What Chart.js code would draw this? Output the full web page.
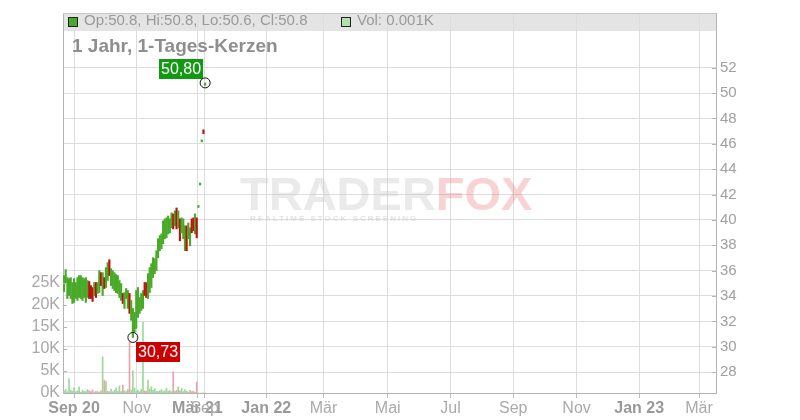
<!DOCTYPE html>
<html>
<head>
<meta charset="utf-8">
<script src="https://cdn.jsdelivr.net/npm/chart.js@4.4.1/dist/chart.umd.min.js"></script>
<style>
  html, body { margin: 0; padding: 0; background: #fff; }
  #wrap { width: 800px; height: 420px; }
</style>
</head>
<body>
<div id="wrap"><canvas id="chart" width="800" height="420"></canvas></div>
<script>
// daily candles, one entry per trading day (index = position on x axis)
const candleLows = [
  34.35, 34.98, 33.80, 34.04, 33.80, 33.41, 33.49, 33.80, 33.65, 33.88,
  33.80, 33.65, 33.88, 33.49, 33.88, 33.80, 33.80, 33.57, 34.04, 33.88,
  34.20, 34.27, 34.82, 34.04, 34.59, 34.67, 35.22, 35.61, 34.82, 34.59,
  34.43, 34.27, 34.20, 33.88, 33.65, 33.41, 33.02, 33.80, 33.02, 32.63,
  32.08, 30.73, 31.14, 31.45, 32.31, 32.63, 32.86, 33.02, 34.04, 33.88,
  33.80, 34.27, 34.67, 35.45, 35.76, 36.00, 37.02, 37.57, 37.73, 38.12,
  38.51, 38.59, 38.90, 38.98, 39.37, 39.29, 39.53, 39.29, 39.37, 38.35,
  38.98, 38.51, 37.57, 37.57, 38.51, 37.96, 38.98, 39.14, 38.90, 38.59,
  40.98, 42.75, 46.15, 46.80, 50.60
];
const candleHighs = [
  35.61, 36.08, 35.45, 35.37, 35.45, 35.06, 35.37, 35.06, 35.45, 35.61,
  35.61, 35.45, 35.37, 35.45, 35.22, 35.14, 34.82, 34.67, 35.06, 35.06,
  35.06, 36.00, 35.84, 35.84, 35.45, 36.24, 36.63, 36.86, 36.16, 36.00,
  35.84, 35.69, 35.61, 35.22, 34.98, 34.20, 34.27, 34.59, 34.43, 34.20,
  33.65, 33.02, 32.71, 34.43, 34.67, 33.88, 34.20, 34.43, 35.06, 35.06,
  35.76, 36.24, 36.55, 37.02, 36.94, 37.57, 38.51, 38.75, 38.90, 39.92,
  40.08, 40.16, 40.31, 40.08, 40.55, 40.47, 40.71, 40.94, 40.71, 40.08,
  40.16, 40.08, 39.53, 39.53, 39.76, 39.37, 40.08, 40.16, 40.47, 40.16,
  41.05, 42.85, 46.25, 47.10, 50.80
];
// u = closed higher, d = closed lower
const candleDirs = (
  "uuuuuuuuuuuuuuu" + "ddd" + "u" + "d" + "uu" + "d" + "u" + "d" + "uu" + "d" +
  "uuuuuuu" + "d" + "uuu" + "d" + "uuuuuuuu" + "dd" + "uuuuuuuuuuuuuuu" +
  "d" + "u" + "d" + "u" + "d" + "uuu" + "d" + "uu" + "dd" + "u" + "d" + "uuu" + "d" + "u"
).split("");
// volume in thousands
const volumes = [
  0.5, 0.8, 0.3, 3.2, 0.6, 0.4, 1.2, 0.3, 0.5, 1.4,
  0.2, 0.6, 0.4, 0.3, 0.8, 0.5, 0.3, 0.7, 0.2, 0.4,
  0.3, 0.2, 0.5, 8.2, 2.9, 2.6, 0.4, 0.3, 0.9, 0.3,
  0.6, 1.1, 0.4, 1.6, 0.3, 1.8, 0.5, 0.3, 0.8, 11.7,
  0.6, 5.0, 1.1, 0.4, 0.6, 0.3, 0.8, 16.0, 0.5, 0.4,
  2.9, 0.9, 1.4, 0.6, 1.0, 0.4, 0.3, 0.5, 0.8, 0.3,
  0.5, 1.1, 0.4, 0.6, 0.3, 4.8, 0.4, 0.6, 1.4, 0.5,
  1.1, 0.3, 0.8, 0.4, 0.2, 0.6, 0.3, 0.4, 0.2, 2.5,
  0, 0, 0, 0, 0.001
];

const xTickPos = [6, 43.3, 79.4, 83.7, 120.4, 154.5, 192.7, 230.1, 267.4, 305.1, 342.4, 378.0];
const xTickLabels = ["Sep 20", "Nov", "Mär 21", "Sep", "Jan 22", "Mär", "Mai", "Jul", "Sep", "Nov", "Jan 23", "Mär"];
const xTickBold = [true, false, true, false, true, false, false, false, false, false, true, false];
const priceTicks = [28, 30, 32, 34, 36, 38, 40, 42, 44, 46, 48, 50, 52];
const volumeTicks = [0, 5000, 10000, 15000, 20000, 25000];

const legendText = "Op:50.8, Hi:50.8, Lo:50.6, Cl:50.8";
const legendVolText = "Vol: 0.001K";
const titleText = "1 Jahr, 1-Tages-Kerzen";

const fontFamily = '"Liberation Sans", Arial, sans-serif';
Chart.defaults.font.family = fontFamily;

const upColor = "#48aa28";
const downColor = "#c01010";
const upVolColor = "#9ad89a";
const downVolColor = "#f0a0a8";

function formatPrice(v) {
  return v.toFixed(2).replace(".", ",");
}

function drawTag(ctx, text, x, y, color) {
  ctx.font = "16px " + fontFamily;
  const w = ctx.measureText(text).width + 4;
  ctx.fillStyle = color;
  ctx.fillRect(x, y, w, 20);
  ctx.fillStyle = "#ffffff";
  ctx.textAlign = "center";
  ctx.textBaseline = "middle";
  ctx.fillText(text, x + w / 2, y + 11);
  return w;
}

const decorPlugin = {
  id: "decor",
  beforeDraw(chart) {
    const { ctx, chartArea: a } = chart;
    ctx.save();
    ctx.fillStyle = "#e4e4e4";
    ctx.fillRect(a.left, a.top, a.right - a.left, 18);
    ctx.restore();
  },
  beforeDatasetsDraw(chart) {
    const ctx = chart.ctx;
    ctx.save();
    ctx.font = "bold 47px " + fontFamily;
    ctx.textBaseline = "alphabetic";
    ctx.textAlign = "left";
    ctx.fillStyle = "rgba(200,200,200,0.38)";
    ctx.fillText("TRADER", 240, 210);
    const w = ctx.measureText("TRADER").width;
    ctx.fillStyle = "rgba(235,120,120,0.33)";
    ctx.fillText("FOX", 240 + w, 210);
    ctx.font = "bold 8px " + fontFamily;
    ctx.letterSpacing = "2px";
    ctx.fillStyle = "rgba(200,200,200,0.5)";
    ctx.fillText("REALTIME STOCK SCREENING", 250, 221);
    ctx.restore();
  },
  afterDatasetsDraw(chart) {
    const { ctx, chartArea: a, scales } = chart;
    ctx.save();
    // top frame line
    ctx.strokeStyle = "#c8c8c8";
    ctx.lineWidth = 1;
    ctx.beginPath();
    ctx.moveTo(a.left, a.top + 0.5);
    ctx.lineTo(a.right, a.top + 0.5);
    ctx.stroke();

    // short inner tick marks on both value axes
    ctx.strokeStyle = "#b4b4b4";
    ctx.beginPath();
    volumeTicks.forEach((v) => {
      const y = Math.round(scales.yv.getPixelForValue(v)) + 0.5;
      ctx.moveTo(a.left, y);
      ctx.lineTo(a.left + 4, y);
    });
    priceTicks.forEach((v) => {
      const y = Math.round(scales.y.getPixelForValue(v)) + 0.5;
      ctx.moveTo(a.right - 4, y);
      ctx.lineTo(a.right, y);
    });
    ctx.stroke();

    // legend row
    ctx.fillStyle = upColor;
    ctx.fillRect(68.5, 17.5, 9, 9);
    ctx.strokeStyle = "#222";
    ctx.strokeRect(68.5, 17.5, 9, 9);
    ctx.font = "15px " + fontFamily;
    ctx.fillStyle = "#9a9a9a";
    ctx.textAlign = "left";
    ctx.textBaseline = "middle";
    ctx.fillText(legendText, 84, 21);
    ctx.fillStyle = "#b2e0aa";
    ctx.fillRect(341.5, 17.5, 9, 9);
    ctx.strokeRect(341.5, 17.5, 9, 9);
    ctx.fillStyle = "#9a9a9a";
    ctx.fillText(legendVolText, 357, 21);

    ctx.font = "bold 19px " + fontFamily;
    ctx.fillStyle = "#8e8e8e";
    ctx.fillText(titleText, 72, 47);

    // highest high / lowest low markers
    let hi = 0, lo = 0;
    for (let i = 0; i < candleHighs.length; i++) {
      if (candleHighs[i] > candleHighs[hi]) hi = i;
      if (candleLows[i] < candleLows[lo]) lo = i;
    }
    const hx = scales.x.getPixelForValue(hi);
    const hy = scales.y.getPixelForValue(candleHighs[hi]);
    const lx = scales.x.getPixelForValue(lo);
    const ly = scales.y.getPixelForValue(candleLows[lo]);

    ctx.font = "16px " + fontFamily;
    const hText = formatPrice(candleHighs[hi]);
    const hw = ctx.measureText(hText).width + 4;
    drawTag(ctx, hText, Math.round(hx - 2 - hw), Math.round(hy - 24), "#119911");
    drawTag(ctx, formatPrice(candleLows[lo]), Math.round(lx + 3), Math.round(ly + 5), "#cc0000");

    ctx.strokeStyle = "#111";
    ctx.lineWidth = 1;
    ctx.beginPath();
    ctx.arc(hx, hy, 5, 0, Math.PI * 2);
    ctx.stroke();
    ctx.beginPath();
    ctx.arc(lx, ly, 5, 0, Math.PI * 2);
    ctx.stroke();
    ctx.restore();
  }
};

const candleData = candleLows.map((lo, i) => ({ x: i, y: [lo, candleHighs[i]] }));
const volumeData = volumes.map((v, i) => ({ x: i, y: v * 1000 }));

new Chart(document.getElementById("chart"), {
  type: "bar",
  data: {
    datasets: [
      {
        label: "Kurs",
        data: candleData,
        yAxisID: "y",
        backgroundColor: candleDirs.map((d) => (d === "u" ? upColor : downColor)),
        barThickness: 1.5,
        minBarLength: 2,
        grouped: false,
        order: 1
      },
      {
        label: "Volumen",
        data: volumeData,
        yAxisID: "yv",
        backgroundColor: candleDirs.map((d) => (d === "u" ? upVolColor : downVolColor)),
        barThickness: 1,
        grouped: false,
        order: 2
      }
    ]
  },
  options: {
    responsive: false,
    animation: false,
    devicePixelRatio: 1,
    layout: { padding: { top: 11, left: 0, right: 0, bottom: 0 } },
    plugins: { legend: { display: false }, tooltip: { enabled: false } },
    scales: {
      x: {
        type: "linear",
        min: -0.6,
        max: 388.1,
        offset: false,
        afterBuildTicks: (scale) => {
          scale.ticks = xTickPos.map((v) => ({ value: v }));
        },
        afterFit: (scale) => {
          scale.height = 27;
        },
        grid: { color: "#dddddd", offset: false, tickLength: 5, tickColor: "#bbbbbb" },
        border: { color: "#b4b4b4" },
        ticks: {
          autoSkip: false,
          maxRotation: 0,
          padding: 1,
          callback: (v, i) => xTickLabels[i],
          color: (c) => (xTickBold[c.index] ? "#999999" : "#aaaaaa"),
          font: (c) => ({ size: 16, weight: xTickBold[c.index] ? "bold" : "normal" })
        }
      },
      y: {
        position: "right",
        min: 26.353,
        max: 56.31,
        afterBuildTicks: (scale) => {
          scale.ticks = priceTicks.map((v) => ({ value: v }));
        },
        afterFit: (scale) => {
          scale.width = 84;
        },
        grid: { color: "#dddddd", drawTicks: false },
        border: { color: "#b4b4b4" },
        ticks: { padding: 4, color: "#a0a0a0", font: { size: 15 } }
      },
      yv: {
        position: "left",
        min: 0,
        max: 86000,
        afterBuildTicks: (scale) => {
          scale.ticks = volumeTicks.map((v) => ({ value: v }));
        },
        afterFit: (scale) => {
          scale.width = 63;
        },
        grid: { display: false, drawTicks: false },
        border: { color: "#b4b4b4" },
        ticks: {
          padding: 3,
          color: "#a8a8a8",
          font: { size: 16 },
          callback: (v) => v / 1000 + "K"
        }
      }
    }
  },
  plugins: [decorPlugin]
});
</script>
</body>
</html>
